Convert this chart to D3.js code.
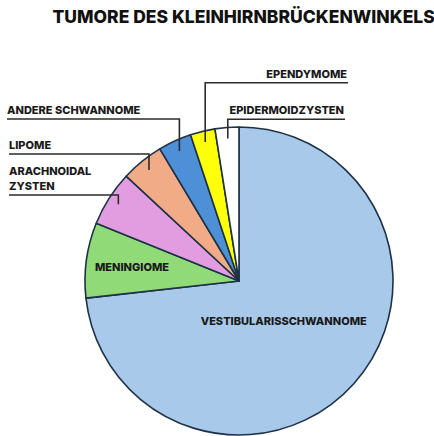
<!DOCTYPE html>
<html>
<head>
<meta charset="utf-8">
<script src="https://cdn.jsdelivr.net/npm/d3@7"></script>
<style>
  html, body { margin: 0; padding: 0; background: #fff; }
  svg { display: block; font-family: Inter, "DejaVu Sans", sans-serif; }
</style>
</head>
<body>
<div id="chart"></div>
<script>
// slice order: clockwise from 12 o'clock
const names = [
  "VESTIBULARISSCHWANNOME",
  "MENINGIOME",
  "ARACHNOIDAL ZYSTEN",
  "LIPOME",
  "ANDERE SCHWANNOME",
  "EPENDYMOME",
  "EPIDERMOIDZYSTEN"
];
const shares = [73.3, 7.9, 5.8, 4.5, 3.5, 2.6, 2.5];
const colors = ["#a9c9eb", "#90da78", "#e29de0", "#f2ab87", "#4d90d8", "#ffff0a", "#ffffff"];

const W = 434, H = 436;
const cx = 239, cy = 281, R = 154;

const svg = d3.select("#chart").append("svg")
  .attr("width", W)
  .attr("height", H);

svg.append("text")
  .attr("x", 52.5)
  .attr("y", 22.5)
  .attr("font-size", 17.5)
  .attr("font-weight", 800)
  .attr("fill", "#111")
  .text("TUMORE DES KLEINHIRNBRÜCKENWINKELS");

const data = names.map((n, i) => ({ name: n, value: shares[i], color: colors[i] }));

const pie = d3.pie().sort(null).value(d => d.value);
const arcs = pie(data);
const arc = d3.arc().innerRadius(0).outerRadius(R);

const g = svg.append("g").attr("transform", `translate(${cx},${cy})`);

g.selectAll("path")
  .data(arcs)
  .join("path")
  .attr("d", arc)
  .attr("fill", d => d.data.color)
  .attr("stroke", "#1e3246")
  .attr("stroke-width", 1.6)
  .attr("stroke-linejoin", "round");

// labels inside the big slices
const inner = { "VESTIBULARISSCHWANNOME": 60, "MENINGIOME": 108 };
g.selectAll("text.inner")
  .data(arcs.filter(d => inner[d.data.name]))
  .join("text")
  .attr("class", "inner")
  .attr("text-anchor", "middle")
  .attr("dy", "0.4em")
  .attr("font-size", 11)
  .attr("font-weight", 800)
  .attr("fill", "#1a1a1a")
  .attr("transform", d => {
    const r = inner[d.data.name];
    return `translate(${d3.arc().innerRadius(r).outerRadius(r).centroid(d)})`;
  })
  .text(d => d.data.name);

// callouts for the small slices: y of the rule, side, label lines
const callouts = {
  "ARACHNOIDAL ZYSTEN": { y: 195, side: "left", lines: ["ARACHNOIDAL", "ZYSTEN"], x: 9 },
  "LIPOME": { y: 154, side: "left", lines: ["LIPOME"], x: 9 },
  "ANDERE SCHWANNOME": { y: 119, side: "left", lines: ["ANDERE SCHWANNOME"], x: 7 },
  "EPENDYMOME": { y: 82.7, side: "right", lines: ["EPENDYMOME"], x: 348 },
  "EPIDERMOIDZYSTEN": { y: 119.3, side: "right", lines: ["EPIDERMOIDZYSTEN"], x: 345 }
};
const tip = d3.arc().innerRadius(143).outerRadius(143);

const co = svg.append("g");
arcs.filter(d => callouts[d.data.name]).forEach(d => {
  const c = callouts[d.data.name];
  const [tx, ty] = tip.centroid(d);
  const px = cx + tx, py = cy + ty;
  co.append("path")
    .attr("d", `M${c.x},${c.y}H${px}V${py}`)
    .attr("fill", "none")
    .attr("stroke", "#2b2b2b")
    .attr("stroke-width", 1.6);
  const t = co.append("text")
    .attr("font-size", 11)
    .attr("font-weight", 800)
    .attr("fill", "#1a1a1a")
    .attr("text-anchor", c.side === "left" ? "start" : "end");
  c.lines.forEach((ln, i) => {
    t.append("tspan")
      .attr("x", c.side === "left" ? c.x : c.x - 1)
      .attr("y", c.y - 5 - (c.lines.length - 1 - i) * 15)
      .text(ln);
  });
});
</script>
</body>
</html>
